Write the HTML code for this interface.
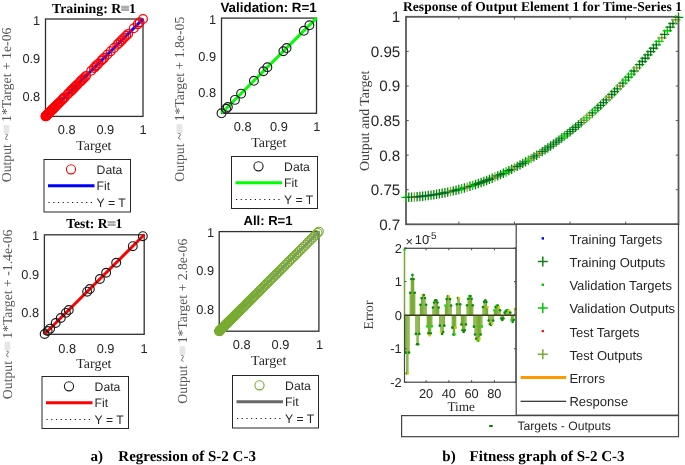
<!DOCTYPE html><html><head><meta charset="utf-8"><style>html,body{margin:0;padding:0;background:#fff;}svg{display:block;will-change:transform;text-rendering:geometricPrecision;}</style></head><body>
<svg width="685" height="465" viewBox="0 0 685 465">
<rect width="685" height="465" fill="#fff"/>
<rect x="45.5" y="19" width="97.5" height="97.4" fill="none" stroke="#303030" stroke-width="1.3"/>
<line x1="45.5" y1="116.4" x2="143" y2="19" stroke="#0000ff" stroke-width="3" />
<g fill="none" stroke="#ff0000" stroke-width="1.25">
<circle cx="45.57" cy="116.33" r="4.4"/>
<circle cx="45.65" cy="116.25" r="4.4"/>
<circle cx="45.87" cy="116.03" r="4.4"/>
<circle cx="46" cy="115.9" r="4.4"/>
<circle cx="46.16" cy="115.74" r="4.4"/>
<circle cx="46.33" cy="115.57" r="4.4"/>
<circle cx="46.52" cy="115.39" r="4.4"/>
<circle cx="46.72" cy="115.18" r="4.4"/>
<circle cx="46.95" cy="114.96" r="4.4"/>
<circle cx="47.19" cy="114.71" r="4.4"/>
<circle cx="47.45" cy="114.45" r="4.4"/>
<circle cx="47.73" cy="114.18" r="4.4"/>
<circle cx="48.02" cy="113.88" r="4.4"/>
<circle cx="48.34" cy="113.57" r="4.4"/>
<circle cx="49.02" cy="112.88" r="4.4"/>
<circle cx="49.39" cy="112.51" r="4.4"/>
<circle cx="49.78" cy="112.13" r="4.4"/>
<circle cx="50.61" cy="111.29" r="4.4"/>
<circle cx="51.52" cy="110.39" r="4.4"/>
<circle cx="52.5" cy="109.41" r="4.4"/>
<circle cx="53.01" cy="108.89" r="4.4"/>
<circle cx="53.55" cy="108.36" r="4.4"/>
<circle cx="54.11" cy="107.8" r="4.4"/>
<circle cx="54.68" cy="107.23" r="4.4"/>
<circle cx="55.28" cy="106.63" r="4.4"/>
<circle cx="55.89" cy="106.02" r="4.4"/>
<circle cx="57.18" cy="104.74" r="4.4"/>
<circle cx="57.85" cy="104.07" r="4.4"/>
<circle cx="58.54" cy="103.38" r="4.4"/>
<circle cx="59.98" cy="101.94" r="4.4"/>
<circle cx="60.73" cy="101.19" r="4.4"/>
<circle cx="62.28" cy="99.63" r="4.4"/>
<circle cx="63.09" cy="98.83" r="4.4"/>
<circle cx="63.92" cy="98" r="4.4"/>
<circle cx="64.77" cy="97.15" r="4.4"/>
<circle cx="67.43" cy="94.49" r="4.4"/>
<circle cx="68.36" cy="93.57" r="4.4"/>
<circle cx="70.27" cy="91.65" r="4.4"/>
<circle cx="71.26" cy="90.67" r="4.4"/>
<circle cx="72.27" cy="89.66" r="4.4"/>
<circle cx="73.3" cy="88.63" r="4.4"/>
<circle cx="74.35" cy="87.58" r="4.4"/>
<circle cx="75.42" cy="86.51" r="4.4"/>
<circle cx="76.51" cy="85.42" r="4.4"/>
<circle cx="77.62" cy="84.31" r="4.4"/>
<circle cx="79.9" cy="82.03" r="4.4"/>
<circle cx="81.08" cy="80.86" r="4.4"/>
<circle cx="82.27" cy="79.67" r="4.4"/>
<circle cx="83.49" cy="78.45" r="4.4"/>
<circle cx="84.72" cy="77.22" r="4.4"/>
<circle cx="85.98" cy="75.96" r="4.4"/>
<circle cx="91.22" cy="70.73" r="4.4"/>
<circle cx="93.97" cy="67.98" r="4.4"/>
<circle cx="95.37" cy="66.58" r="4.4"/>
<circle cx="96.8" cy="65.15" r="4.4"/>
<circle cx="98.25" cy="63.71" r="4.4"/>
<circle cx="101.21" cy="60.75" r="4.4"/>
<circle cx="102.73" cy="59.23" r="4.4"/>
<circle cx="104.26" cy="57.7" r="4.4"/>
<circle cx="107.4" cy="54.56" r="4.4"/>
<circle cx="110.63" cy="51.34" r="4.4"/>
<circle cx="113.94" cy="48.03" r="4.4"/>
<circle cx="117.34" cy="44.63" r="4.4"/>
<circle cx="119.08" cy="42.9" r="4.4"/>
<circle cx="120.83" cy="41.14" r="4.4"/>
<circle cx="122.61" cy="39.36" r="4.4"/>
<circle cx="124.42" cy="37.56" r="4.4"/>
<circle cx="126.24" cy="35.74" r="4.4"/>
<circle cx="128.09" cy="33.9" r="4.4"/>
<circle cx="133.77" cy="28.22" r="4.4"/>
<circle cx="137.67" cy="24.33" r="4.4"/>
<circle cx="139.65" cy="22.34" r="4.4"/>
<circle cx="143" cy="19" r="4.4"/>
</g>
<text x="94" y="13.1" font-family='"Liberation Serif", serif' font-size="13.8" font-weight="bold" text-anchor="middle" fill="#000" >Training: R<tspan fill="#ababab" stroke="#ababab" stroke-width="1.5">=</tspan>1</text>
<text x="66.7" y="134.3" font-family='"Liberation Sans", sans-serif' font-size="12.8" text-anchor="middle" fill="#262626" >0.8</text>
<text x="105.3" y="134.3" font-family='"Liberation Sans", sans-serif' font-size="12.8" text-anchor="middle" fill="#262626" >0.9</text>
<text x="143" y="134.3" font-family='"Liberation Sans", sans-serif' font-size="12.8" text-anchor="middle" fill="#262626" >1</text>
<text x="40.2" y="24.8" font-family='"Liberation Sans", sans-serif' font-size="12.8" text-anchor="end" fill="#262626" >1</text>
<text x="40.2" y="62.5" font-family='"Liberation Sans", sans-serif' font-size="12.8" text-anchor="end" fill="#262626" >0.9</text>
<text x="40.2" y="100.5" font-family='"Liberation Sans", sans-serif' font-size="12.8" text-anchor="end" fill="#262626" >0.8</text>
<text x="93.9" y="149.9" font-family='"Liberation Serif", serif' font-size="13.95" text-anchor="middle" fill="#262626" >Target</text>
<text transform="translate(11.2,182.25) rotate(-90)" font-family='"Liberation Serif", serif' font-size="13.75" fill="#555">Output ~<tspan fill="#e6e6e6" stroke="#e6e6e6" stroke-width="2.2">=</tspan> 1*Target + 1e-06</text>
<rect x="44" y="159.5" width="86.5" height="52.5" fill="#fff" stroke="#262626" stroke-width="1"/>
<circle cx="71" cy="169.3" r="4.6" fill="none" stroke="#ff0000" stroke-width="1.1"/>
<line x1="48" y1="185.7" x2="94.5" y2="185.7" stroke="#0000ff" stroke-width="3" />
<line x1="48.5" y1="202.5" x2="95.5" y2="202.5" stroke="#1a1a1a" stroke-width="1.05" stroke-dasharray="1.2 3.5"/>
<text x="96.6" y="173.5" font-family='"Liberation Sans", sans-serif' font-size="12.2" text-anchor="start" fill="#262626" >Data</text>
<text x="96.6" y="189.9" font-family='"Liberation Sans", sans-serif' font-size="12.2" text-anchor="start" fill="#262626" >Fit</text>
<text x="96.6" y="206.7" font-family='"Liberation Sans", sans-serif' font-size="12.2" text-anchor="start" fill="#262626" >Y = T</text>
<rect x="221.5" y="18.1" width="95" height="95.2" fill="none" stroke="#303030" stroke-width="1.3"/>
<line x1="221.5" y1="113.3" x2="316.5" y2="18.1" stroke="#00ff00" stroke-width="3" />
<g fill="none" stroke="#1a1a1a" stroke-width="1.15">
<circle cx="221.5" cy="113.3" r="4.4"/>
<circle cx="226.07" cy="108.73" r="4.4"/>
<circle cx="227.83" cy="106.96" r="4.4"/>
<circle cx="234.9" cy="99.88" r="4.4"/>
<circle cx="241.12" cy="93.64" r="4.4"/>
<circle cx="253.9" cy="80.83" r="4.4"/>
<circle cx="263.45" cy="71.26" r="4.4"/>
<circle cx="267.37" cy="67.33" r="4.4"/>
<circle cx="283.37" cy="51.3" r="4.4"/>
<circle cx="286.56" cy="48.1" r="4.4"/>
<circle cx="303.79" cy="30.83" r="4.4"/>
<circle cx="309.39" cy="25.22" r="4.4"/>
</g>
<text x="268.6" y="11.5" font-family='"Liberation Sans", sans-serif' font-size="13.4" font-weight="bold" text-anchor="middle" fill="#000" >Validation: R=1</text>
<text x="242.7" y="130.8" font-family='"Liberation Sans", sans-serif' font-size="12.8" text-anchor="middle" fill="#262626" >0.8</text>
<text x="278.9" y="130.8" font-family='"Liberation Sans", sans-serif' font-size="12.8" text-anchor="middle" fill="#262626" >0.9</text>
<text x="316.8" y="130.8" font-family='"Liberation Sans", sans-serif' font-size="12.8" text-anchor="middle" fill="#262626" >1</text>
<text x="216" y="24.1" font-family='"Liberation Sans", sans-serif' font-size="12.8" text-anchor="end" fill="#262626" >1</text>
<text x="216" y="60.5" font-family='"Liberation Sans", sans-serif' font-size="12.8" text-anchor="end" fill="#262626" >0.9</text>
<text x="216" y="96.8" font-family='"Liberation Sans", sans-serif' font-size="12.8" text-anchor="end" fill="#262626" >0.8</text>
<text x="268.85" y="146.6" font-family='"Liberation Serif", serif' font-size="13.95" text-anchor="middle" fill="#262626" >Target</text>
<text transform="translate(184.3,181.65) rotate(-90)" font-family='"Liberation Serif", serif' font-size="13.75" fill="#555">Output ~<tspan fill="#e6e6e6" stroke="#e6e6e6" stroke-width="2.2">=</tspan> 1*Target + 1.8e-05</text>
<rect x="231.5" y="156.5" width="86" height="52" fill="#fff" stroke="#262626" stroke-width="1"/>
<circle cx="258.5" cy="166.3" r="4.6" fill="none" stroke="#1a1a1a" stroke-width="1.1"/>
<line x1="235.5" y1="182.7" x2="282" y2="182.7" stroke="#00ff00" stroke-width="3" />
<line x1="236" y1="199.5" x2="283" y2="199.5" stroke="#1a1a1a" stroke-width="1.05" stroke-dasharray="1.2 3.5"/>
<text x="284.1" y="170.5" font-family='"Liberation Sans", sans-serif' font-size="12.2" text-anchor="start" fill="#262626" >Data</text>
<text x="284.1" y="186.9" font-family='"Liberation Sans", sans-serif' font-size="12.2" text-anchor="start" fill="#262626" >Fit</text>
<text x="284.1" y="203.7" font-family='"Liberation Sans", sans-serif' font-size="12.2" text-anchor="start" fill="#262626" >Y = T</text>
<rect x="44.4" y="234.8" width="99.8" height="99.5" fill="none" stroke="#303030" stroke-width="1.3"/>
<line x1="44.4" y1="334.3" x2="144.2" y2="234.8" stroke="#ff0000" stroke-width="3" />
<g fill="none" stroke="#1a1a1a" stroke-width="1.15">
<circle cx="44.65" cy="334.05" r="4.4"/>
<circle cx="47.65" cy="331.06" r="4.4"/>
<circle cx="50.08" cy="328.63" r="4.4"/>
<circle cx="55.68" cy="323.05" r="4.4"/>
<circle cx="60.77" cy="317.98" r="4.4"/>
<circle cx="65.92" cy="312.85" r="4.4"/>
<circle cx="68.77" cy="310.01" r="4.4"/>
<circle cx="87.14" cy="291.69" r="4.4"/>
<circle cx="89.82" cy="289.01" r="4.4"/>
<circle cx="99.9" cy="278.97" r="4.4"/>
<circle cx="106.14" cy="272.74" r="4.4"/>
<circle cx="116.18" cy="262.73" r="4.4"/>
<circle cx="132.79" cy="246.18" r="4.4"/>
<circle cx="142.83" cy="236.17" r="4.4"/>
</g>
<text x="94.2" y="228.3" font-family='"Liberation Serif", serif' font-size="13.6" font-weight="bold" text-anchor="middle" fill="#000" >Test: R<tspan fill="#ababab" stroke="#ababab" stroke-width="1.5">=</tspan>1</text>
<text x="67.2" y="352.7" font-family='"Liberation Sans", sans-serif' font-size="12.8" text-anchor="middle" fill="#262626" >0.8</text>
<text x="105.6" y="352.7" font-family='"Liberation Sans", sans-serif' font-size="12.8" text-anchor="middle" fill="#262626" >0.9</text>
<text x="144" y="352.7" font-family='"Liberation Sans", sans-serif' font-size="12.8" text-anchor="middle" fill="#262626" >1</text>
<text x="39.1" y="239.5" font-family='"Liberation Sans", sans-serif' font-size="12.8" text-anchor="end" fill="#262626" >1</text>
<text x="39.1" y="278.5" font-family='"Liberation Sans", sans-serif' font-size="12.8" text-anchor="end" fill="#262626" >0.9</text>
<text x="39.1" y="316.6" font-family='"Liberation Sans", sans-serif' font-size="12.8" text-anchor="end" fill="#262626" >0.8</text>
<text x="93.9" y="367.9" font-family='"Liberation Serif", serif' font-size="13.95" text-anchor="middle" fill="#262626" >Target</text>
<text transform="translate(12,399.15) rotate(-90)" font-family='"Liberation Serif", serif' font-size="13.75" fill="#555">Output ~<tspan fill="#e6e6e6" stroke="#e6e6e6" stroke-width="2.2">=</tspan> 1*Target + -1.4e-06</text>
<rect x="42" y="376.5" width="86.5" height="52" fill="#fff" stroke="#262626" stroke-width="1"/>
<circle cx="69" cy="386.3" r="4.6" fill="none" stroke="#1a1a1a" stroke-width="1.1"/>
<line x1="46" y1="402.7" x2="92.5" y2="402.7" stroke="#ff0000" stroke-width="3" />
<line x1="46.5" y1="419.5" x2="93.5" y2="419.5" stroke="#1a1a1a" stroke-width="1.05" stroke-dasharray="1.2 3.5"/>
<text x="94.6" y="390.5" font-family='"Liberation Sans", sans-serif' font-size="12.2" text-anchor="start" fill="#262626" >Data</text>
<text x="94.6" y="406.9" font-family='"Liberation Sans", sans-serif' font-size="12.2" text-anchor="start" fill="#262626" >Fit</text>
<text x="94.6" y="423.7" font-family='"Liberation Sans", sans-serif' font-size="12.2" text-anchor="start" fill="#262626" >Y = T</text>
<rect x="219.2" y="231.6" width="99.7" height="99.6" fill="none" stroke="#303030" stroke-width="1.3"/>
<line x1="219.2" y1="331.2" x2="318.9" y2="231.6" stroke="#8a8a8a" stroke-width="3" />
<g fill="none" stroke="#77ac30" stroke-width="1.1">
<circle cx="219.2" cy="331.2" r="4.4"/>
<circle cx="219.27" cy="331.13" r="4.4"/>
<circle cx="219.35" cy="331.05" r="4.4"/>
<circle cx="219.45" cy="330.95" r="4.4"/>
<circle cx="219.58" cy="330.83" r="4.4"/>
<circle cx="219.71" cy="330.69" r="4.4"/>
<circle cx="219.87" cy="330.53" r="4.4"/>
<circle cx="220.05" cy="330.36" r="4.4"/>
<circle cx="220.24" cy="330.16" r="4.4"/>
<circle cx="220.45" cy="329.95" r="4.4"/>
<circle cx="220.68" cy="329.72" r="4.4"/>
<circle cx="220.93" cy="329.48" r="4.4"/>
<circle cx="221.19" cy="329.21" r="4.4"/>
<circle cx="221.48" cy="328.93" r="4.4"/>
<circle cx="221.78" cy="328.62" r="4.4"/>
<circle cx="222.1" cy="328.3" r="4.4"/>
<circle cx="222.44" cy="327.96" r="4.4"/>
<circle cx="222.8" cy="327.6" r="4.4"/>
<circle cx="223.18" cy="327.22" r="4.4"/>
<circle cx="223.58" cy="326.83" r="4.4"/>
<circle cx="223.99" cy="326.41" r="4.4"/>
<circle cx="224.43" cy="325.98" r="4.4"/>
<circle cx="224.88" cy="325.53" r="4.4"/>
<circle cx="225.35" cy="325.05" r="4.4"/>
<circle cx="225.84" cy="324.56" r="4.4"/>
<circle cx="226.35" cy="324.05" r="4.4"/>
<circle cx="226.88" cy="323.52" r="4.4"/>
<circle cx="227.43" cy="322.97" r="4.4"/>
<circle cx="228" cy="322.41" r="4.4"/>
<circle cx="228.59" cy="321.82" r="4.4"/>
<circle cx="229.2" cy="321.21" r="4.4"/>
<circle cx="229.83" cy="320.58" r="4.4"/>
<circle cx="230.47" cy="319.94" r="4.4"/>
<circle cx="231.14" cy="319.27" r="4.4"/>
<circle cx="231.83" cy="318.59" r="4.4"/>
<circle cx="232.53" cy="317.88" r="4.4"/>
<circle cx="233.26" cy="317.16" r="4.4"/>
<circle cx="234" cy="316.41" r="4.4"/>
<circle cx="234.77" cy="315.65" r="4.4"/>
<circle cx="235.56" cy="314.86" r="4.4"/>
<circle cx="236.36" cy="314.06" r="4.4"/>
<circle cx="237.19" cy="313.23" r="4.4"/>
<circle cx="238.03" cy="312.38" r="4.4"/>
<circle cx="238.9" cy="311.52" r="4.4"/>
<circle cx="239.79" cy="310.63" r="4.4"/>
<circle cx="240.7" cy="309.73" r="4.4"/>
<circle cx="241.62" cy="308.8" r="4.4"/>
<circle cx="242.57" cy="307.85" r="4.4"/>
<circle cx="243.54" cy="306.88" r="4.4"/>
<circle cx="244.53" cy="305.89" r="4.4"/>
<circle cx="245.54" cy="304.88" r="4.4"/>
<circle cx="246.57" cy="303.85" r="4.4"/>
<circle cx="247.63" cy="302.8" r="4.4"/>
<circle cx="248.7" cy="301.73" r="4.4"/>
<circle cx="249.79" cy="300.64" r="4.4"/>
<circle cx="250.91" cy="299.52" r="4.4"/>
<circle cx="252.04" cy="298.39" r="4.4"/>
<circle cx="253.2" cy="297.23" r="4.4"/>
<circle cx="254.38" cy="296.06" r="4.4"/>
<circle cx="255.58" cy="294.86" r="4.4"/>
<circle cx="256.8" cy="293.64" r="4.4"/>
<circle cx="258.04" cy="292.4" r="4.4"/>
<circle cx="259.31" cy="291.13" r="4.4"/>
<circle cx="260.59" cy="289.85" r="4.4"/>
<circle cx="261.9" cy="288.54" r="4.4"/>
<circle cx="263.23" cy="287.22" r="4.4"/>
<circle cx="264.58" cy="285.87" r="4.4"/>
<circle cx="265.95" cy="284.5" r="4.4"/>
<circle cx="267.34" cy="283.1" r="4.4"/>
<circle cx="268.76" cy="281.69" r="4.4"/>
<circle cx="270.2" cy="280.25" r="4.4"/>
<circle cx="271.66" cy="278.8" r="4.4"/>
<circle cx="273.14" cy="277.32" r="4.4"/>
<circle cx="274.64" cy="275.81" r="4.4"/>
<circle cx="276.17" cy="274.29" r="4.4"/>
<circle cx="277.72" cy="272.74" r="4.4"/>
<circle cx="279.29" cy="271.17" r="4.4"/>
<circle cx="280.88" cy="269.58" r="4.4"/>
<circle cx="282.5" cy="267.97" r="4.4"/>
<circle cx="284.13" cy="266.33" r="4.4"/>
<circle cx="285.79" cy="264.67" r="4.4"/>
<circle cx="287.48" cy="262.99" r="4.4"/>
<circle cx="289.18" cy="261.29" r="4.4"/>
<circle cx="290.91" cy="259.56" r="4.4"/>
<circle cx="292.66" cy="257.81" r="4.4"/>
<circle cx="294.44" cy="256.04" r="4.4"/>
<circle cx="296.23" cy="254.24" r="4.4"/>
<circle cx="298.05" cy="252.42" r="4.4"/>
<circle cx="299.9" cy="250.58" r="4.4"/>
<circle cx="301.76" cy="248.72" r="4.4"/>
<circle cx="303.65" cy="246.83" r="4.4"/>
<circle cx="305.57" cy="244.92" r="4.4"/>
<circle cx="307.5" cy="242.99" r="4.4"/>
<circle cx="309.46" cy="241.03" r="4.4"/>
<circle cx="311.44" cy="239.05" r="4.4"/>
<circle cx="313.45" cy="237.05" r="4.4"/>
<circle cx="315.48" cy="235.02" r="4.4"/>
<circle cx="317.53" cy="232.97" r="4.4"/>
<circle cx="318.9" cy="231.6" r="4.4"/>
</g>
<text x="268" y="224.8" font-family='"Liberation Sans", sans-serif' font-size="13.1" font-weight="bold" text-anchor="middle" fill="#000" >All: R=1</text>
<text x="241.7" y="349.2" font-family='"Liberation Sans", sans-serif' font-size="12.8" text-anchor="middle" fill="#262626" >0.8</text>
<text x="280.5" y="349.2" font-family='"Liberation Sans", sans-serif' font-size="12.8" text-anchor="middle" fill="#262626" >0.9</text>
<text x="319.6" y="349.2" font-family='"Liberation Sans", sans-serif' font-size="12.8" text-anchor="middle" fill="#262626" >1</text>
<text x="214" y="236.5" font-family='"Liberation Sans", sans-serif' font-size="12.8" text-anchor="end" fill="#262626" >1</text>
<text x="214" y="275.4" font-family='"Liberation Sans", sans-serif' font-size="12.8" text-anchor="end" fill="#262626" >0.9</text>
<text x="214" y="313.7" font-family='"Liberation Sans", sans-serif' font-size="12.8" text-anchor="end" fill="#262626" >0.8</text>
<text x="268.7" y="364.6" font-family='"Liberation Serif", serif' font-size="13.95" text-anchor="middle" fill="#262626" >Target</text>
<text transform="translate(187,403.65) rotate(-90)" font-family='"Liberation Serif", serif' font-size="13.75" fill="#555">Output ~<tspan fill="#e6e6e6" stroke="#e6e6e6" stroke-width="2.2">=</tspan> 1*Target + 2.8e-06</text>
<rect x="232.5" y="375.5" width="86" height="52.5" fill="#fff" stroke="#262626" stroke-width="1"/>
<circle cx="259.5" cy="385.3" r="4.6" fill="none" stroke="#77ac30" stroke-width="1.1"/>
<line x1="236.5" y1="401.7" x2="283" y2="401.7" stroke="#666666" stroke-width="3" />
<line x1="237" y1="418.5" x2="284" y2="418.5" stroke="#1a1a1a" stroke-width="1.05" stroke-dasharray="1.2 3.5"/>
<text x="285.1" y="389.5" font-family='"Liberation Sans", sans-serif' font-size="12.2" text-anchor="start" fill="#262626" >Data</text>
<text x="285.1" y="405.9" font-family='"Liberation Sans", sans-serif' font-size="12.2" text-anchor="start" fill="#262626" >Fit</text>
<text x="285.1" y="422.7" font-family='"Liberation Sans", sans-serif' font-size="12.2" text-anchor="start" fill="#262626" >Y = T</text>
<rect x="406" y="16.8" width="272.5" height="207.5" fill="none" stroke="#5a5a5a" stroke-width="1.8"/>
<path d="M401.3,197.41h9.4M406,192.71v9.4" stroke="#00d000" stroke-width="1.3" fill="none"/>
<path d="M404.08,197.29h9.4M408.78,192.59v9.4" stroke="#008800" stroke-width="1.3" fill="none"/>
<path d="M406.86,197.13h9.4M411.56,192.43v9.4" stroke="#008800" stroke-width="1.3" fill="none"/>
<path d="M409.64,196.95h9.4M414.34,192.25v9.4" stroke="#77ac30" stroke-width="1.3" fill="none"/>
<path d="M412.42,196.73h9.4M417.12,192.03v9.4" stroke="#008800" stroke-width="1.3" fill="none"/>
<path d="M415.2,196.48h9.4M419.9,191.78v9.4" stroke="#008800" stroke-width="1.3" fill="none"/>
<path d="M417.98,196.19h9.4M422.68,191.49v9.4" stroke="#008800" stroke-width="1.3" fill="none"/>
<path d="M420.76,195.88h9.4M425.46,191.18v9.4" stroke="#008800" stroke-width="1.3" fill="none"/>
<path d="M423.54,195.53h9.4M428.24,190.83v9.4" stroke="#008800" stroke-width="1.3" fill="none"/>
<path d="M426.33,195.15h9.4M431.03,190.45v9.4" stroke="#008800" stroke-width="1.3" fill="none"/>
<path d="M429.11,194.73h9.4M433.81,190.03v9.4" stroke="#008800" stroke-width="1.3" fill="none"/>
<path d="M431.89,194.29h9.4M436.59,189.59v9.4" stroke="#008800" stroke-width="1.3" fill="none"/>
<path d="M434.67,193.81h9.4M439.37,189.11v9.4" stroke="#008800" stroke-width="1.3" fill="none"/>
<path d="M437.45,193.29h9.4M442.15,188.59v9.4" stroke="#008800" stroke-width="1.3" fill="none"/>
<path d="M440.23,192.75h9.4M444.93,188.05v9.4" stroke="#008800" stroke-width="1.3" fill="none"/>
<path d="M443.01,192.16h9.4M447.71,187.46v9.4" stroke="#008800" stroke-width="1.3" fill="none"/>
<path d="M445.79,191.55h9.4M450.49,186.85v9.4" stroke="#77ac30" stroke-width="1.3" fill="none"/>
<path d="M448.57,190.9h9.4M453.27,186.2v9.4" stroke="#008800" stroke-width="1.3" fill="none"/>
<path d="M451.35,190.22h9.4M456.05,185.52v9.4" stroke="#008800" stroke-width="1.3" fill="none"/>
<path d="M454.13,189.5h9.4M458.83,184.8v9.4" stroke="#008800" stroke-width="1.3" fill="none"/>
<path d="M456.91,188.75h9.4M461.61,184.05v9.4" stroke="#00d000" stroke-width="1.3" fill="none"/>
<path d="M459.69,187.97h9.4M464.39,183.27v9.4" stroke="#008800" stroke-width="1.3" fill="none"/>
<path d="M462.47,187.15h9.4M467.17,182.45v9.4" stroke="#77ac30" stroke-width="1.3" fill="none"/>
<path d="M465.25,186.29h9.4M469.95,181.59v9.4" stroke="#008800" stroke-width="1.3" fill="none"/>
<path d="M468.03,185.41h9.4M472.73,180.71v9.4" stroke="#00d000" stroke-width="1.3" fill="none"/>
<path d="M470.82,184.48h9.4M475.52,179.78v9.4" stroke="#008800" stroke-width="1.3" fill="none"/>
<path d="M473.6,183.52h9.4M478.3,178.82v9.4" stroke="#008800" stroke-width="1.3" fill="none"/>
<path d="M476.38,182.53h9.4M481.08,177.83v9.4" stroke="#008800" stroke-width="1.3" fill="none"/>
<path d="M479.16,181.5h9.4M483.86,176.8v9.4" stroke="#008800" stroke-width="1.3" fill="none"/>
<path d="M481.94,180.44h9.4M486.64,175.74v9.4" stroke="#008800" stroke-width="1.3" fill="none"/>
<path d="M484.72,179.34h9.4M489.42,174.64v9.4" stroke="#008800" stroke-width="1.3" fill="none"/>
<path d="M487.5,178.21h9.4M492.2,173.51v9.4" stroke="#008800" stroke-width="1.3" fill="none"/>
<path d="M490.28,177.04h9.4M494.98,172.34v9.4" stroke="#77ac30" stroke-width="1.3" fill="none"/>
<path d="M493.06,175.84h9.4M497.76,171.14v9.4" stroke="#008800" stroke-width="1.3" fill="none"/>
<path d="M495.84,174.6h9.4M500.54,169.9v9.4" stroke="#008800" stroke-width="1.3" fill="none"/>
<path d="M498.62,173.32h9.4M503.32,168.62v9.4" stroke="#008800" stroke-width="1.3" fill="none"/>
<path d="M501.4,172.01h9.4M506.1,167.31v9.4" stroke="#00d000" stroke-width="1.3" fill="none"/>
<path d="M504.18,170.66h9.4M508.88,165.96v9.4" stroke="#008800" stroke-width="1.3" fill="none"/>
<path d="M506.96,169.28h9.4M511.66,164.58v9.4" stroke="#008800" stroke-width="1.3" fill="none"/>
<path d="M509.74,167.86h9.4M514.44,163.16v9.4" stroke="#77ac30" stroke-width="1.3" fill="none"/>
<path d="M512.52,166.4h9.4M517.22,161.7v9.4" stroke="#008800" stroke-width="1.3" fill="none"/>
<path d="M515.31,164.91h9.4M520.01,160.21v9.4" stroke="#008800" stroke-width="1.3" fill="none"/>
<path d="M518.09,163.38h9.4M522.79,158.68v9.4" stroke="#008800" stroke-width="1.3" fill="none"/>
<path d="M520.87,161.82h9.4M525.57,157.12v9.4" stroke="#008800" stroke-width="1.3" fill="none"/>
<path d="M523.65,160.21h9.4M528.35,155.51v9.4" stroke="#00d000" stroke-width="1.3" fill="none"/>
<path d="M526.43,158.57h9.4M531.13,153.87v9.4" stroke="#77ac30" stroke-width="1.3" fill="none"/>
<path d="M529.21,156.9h9.4M533.91,152.2v9.4" stroke="#008800" stroke-width="1.3" fill="none"/>
<path d="M531.99,155.18h9.4M536.69,150.48v9.4" stroke="#008800" stroke-width="1.3" fill="none"/>
<path d="M534.77,153.43h9.4M539.47,148.73v9.4" stroke="#77ac30" stroke-width="1.3" fill="none"/>
<path d="M537.55,151.65h9.4M542.25,146.95v9.4" stroke="#008800" stroke-width="1.3" fill="none"/>
<path d="M540.33,149.82h9.4M545.03,145.12v9.4" stroke="#008800" stroke-width="1.3" fill="none"/>
<path d="M543.11,147.96h9.4M547.81,143.26v9.4" stroke="#008800" stroke-width="1.3" fill="none"/>
<path d="M545.89,146.06h9.4M550.59,141.36v9.4" stroke="#008800" stroke-width="1.3" fill="none"/>
<path d="M548.67,144.12h9.4M553.37,139.42v9.4" stroke="#008800" stroke-width="1.3" fill="none"/>
<path d="M551.45,142.14h9.4M556.15,137.44v9.4" stroke="#008800" stroke-width="1.3" fill="none"/>
<path d="M554.23,140.13h9.4M558.93,135.43v9.4" stroke="#008800" stroke-width="1.3" fill="none"/>
<path d="M557.01,138.07h9.4M561.71,133.37v9.4" stroke="#008800" stroke-width="1.3" fill="none"/>
<path d="M559.79,135.98h9.4M564.49,131.28v9.4" stroke="#00d000" stroke-width="1.3" fill="none"/>
<path d="M562.58,133.86h9.4M567.28,129.16v9.4" stroke="#008800" stroke-width="1.3" fill="none"/>
<path d="M565.36,131.69h9.4M570.06,126.99v9.4" stroke="#008800" stroke-width="1.3" fill="none"/>
<path d="M568.14,129.48h9.4M572.84,124.78v9.4" stroke="#008800" stroke-width="1.3" fill="none"/>
<path d="M570.92,127.24h9.4M575.62,122.54v9.4" stroke="#008800" stroke-width="1.3" fill="none"/>
<path d="M573.7,124.95h9.4M578.4,120.25v9.4" stroke="#008800" stroke-width="1.3" fill="none"/>
<path d="M576.48,122.63h9.4M581.18,117.93v9.4" stroke="#008800" stroke-width="1.3" fill="none"/>
<path d="M579.26,120.27h9.4M583.96,115.57v9.4" stroke="#77ac30" stroke-width="1.3" fill="none"/>
<path d="M582.04,117.87h9.4M586.74,113.17v9.4" stroke="#00d000" stroke-width="1.3" fill="none"/>
<path d="M584.82,115.43h9.4M589.52,110.73v9.4" stroke="#77ac30" stroke-width="1.3" fill="none"/>
<path d="M587.6,112.95h9.4M592.3,108.25v9.4" stroke="#008800" stroke-width="1.3" fill="none"/>
<path d="M590.38,110.44h9.4M595.08,105.74v9.4" stroke="#00d000" stroke-width="1.3" fill="none"/>
<path d="M593.16,107.88h9.4M597.86,103.18v9.4" stroke="#008800" stroke-width="1.3" fill="none"/>
<path d="M595.94,105.28h9.4M600.64,100.58v9.4" stroke="#008800" stroke-width="1.3" fill="none"/>
<path d="M598.72,102.64h9.4M603.42,97.94v9.4" stroke="#008800" stroke-width="1.3" fill="none"/>
<path d="M601.5,99.97h9.4M606.2,95.27v9.4" stroke="#008800" stroke-width="1.3" fill="none"/>
<path d="M604.28,97.25h9.4M608.98,92.55v9.4" stroke="#77ac30" stroke-width="1.3" fill="none"/>
<path d="M607.07,94.49h9.4M611.77,89.79v9.4" stroke="#008800" stroke-width="1.3" fill="none"/>
<path d="M609.85,91.7h9.4M614.55,87v9.4" stroke="#008800" stroke-width="1.3" fill="none"/>
<path d="M612.63,88.86h9.4M617.33,84.16v9.4" stroke="#008800" stroke-width="1.3" fill="none"/>
<path d="M615.41,85.98h9.4M620.11,81.28v9.4" stroke="#77ac30" stroke-width="1.3" fill="none"/>
<path d="M618.19,83.06h9.4M622.89,78.36v9.4" stroke="#008800" stroke-width="1.3" fill="none"/>
<path d="M620.97,80.1h9.4M625.67,75.4v9.4" stroke="#00d000" stroke-width="1.3" fill="none"/>
<path d="M623.75,77.1h9.4M628.45,72.4v9.4" stroke="#008800" stroke-width="1.3" fill="none"/>
<path d="M626.53,74.06h9.4M631.23,69.36v9.4" stroke="#00d000" stroke-width="1.3" fill="none"/>
<path d="M629.31,70.98h9.4M634.01,66.28v9.4" stroke="#008800" stroke-width="1.3" fill="none"/>
<path d="M632.09,67.86h9.4M636.79,63.16v9.4" stroke="#77ac30" stroke-width="1.3" fill="none"/>
<path d="M634.87,64.7h9.4M639.57,60v9.4" stroke="#008800" stroke-width="1.3" fill="none"/>
<path d="M637.65,61.49h9.4M642.35,56.79v9.4" stroke="#008800" stroke-width="1.3" fill="none"/>
<path d="M640.43,58.24h9.4M645.13,53.54v9.4" stroke="#008800" stroke-width="1.3" fill="none"/>
<path d="M643.21,54.96h9.4M647.91,50.26v9.4" stroke="#008800" stroke-width="1.3" fill="none"/>
<path d="M645.99,51.63h9.4M650.69,46.93v9.4" stroke="#008800" stroke-width="1.3" fill="none"/>
<path d="M648.77,48.26h9.4M653.47,43.56v9.4" stroke="#008800" stroke-width="1.3" fill="none"/>
<path d="M651.56,44.84h9.4M656.26,40.14v9.4" stroke="#008800" stroke-width="1.3" fill="none"/>
<path d="M654.34,41.39h9.4M659.04,36.69v9.4" stroke="#00d000" stroke-width="1.3" fill="none"/>
<path d="M657.12,37.89h9.4M661.82,33.19v9.4" stroke="#77ac30" stroke-width="1.3" fill="none"/>
<path d="M659.9,34.35h9.4M664.6,29.65v9.4" stroke="#008800" stroke-width="1.3" fill="none"/>
<path d="M662.68,30.77h9.4M667.38,26.07v9.4" stroke="#00d000" stroke-width="1.3" fill="none"/>
<path d="M665.46,27.15h9.4M670.16,22.45v9.4" stroke="#008800" stroke-width="1.3" fill="none"/>
<path d="M668.24,23.48h9.4M672.94,18.78v9.4" stroke="#008800" stroke-width="1.3" fill="none"/>
<path d="M671.02,19.77h9.4M675.72,15.07v9.4" stroke="#77ac30" stroke-width="1.3" fill="none"/>
<path d="M673.8,17.3h9.4M678.5,12.6v9.4" stroke="#008800" stroke-width="1.3" fill="none"/>
<circle cx="406" cy="197.41" r="0.65" fill="#00c800"/>
<circle cx="408.78" cy="197.29" r="0.65" fill="#1010d0"/>
<circle cx="411.56" cy="197.13" r="0.65" fill="#1010d0"/>
<circle cx="414.34" cy="196.95" r="0.65" fill="#e81010"/>
<circle cx="417.12" cy="196.73" r="0.65" fill="#1010d0"/>
<circle cx="419.9" cy="196.48" r="0.65" fill="#1010d0"/>
<circle cx="422.68" cy="196.19" r="0.65" fill="#1010d0"/>
<circle cx="425.46" cy="195.88" r="0.65" fill="#1010d0"/>
<circle cx="428.24" cy="195.53" r="0.65" fill="#1010d0"/>
<circle cx="431.03" cy="195.15" r="0.65" fill="#1010d0"/>
<circle cx="433.81" cy="194.73" r="0.65" fill="#1010d0"/>
<circle cx="436.59" cy="194.29" r="0.65" fill="#1010d0"/>
<circle cx="439.37" cy="193.81" r="0.65" fill="#1010d0"/>
<circle cx="442.15" cy="193.29" r="0.65" fill="#1010d0"/>
<circle cx="444.93" cy="192.75" r="0.65" fill="#1010d0"/>
<circle cx="447.71" cy="192.16" r="0.65" fill="#1010d0"/>
<circle cx="450.49" cy="191.55" r="0.65" fill="#e81010"/>
<circle cx="453.27" cy="190.9" r="0.65" fill="#1010d0"/>
<circle cx="456.05" cy="190.22" r="0.65" fill="#1010d0"/>
<circle cx="458.83" cy="189.5" r="0.65" fill="#1010d0"/>
<circle cx="461.61" cy="188.75" r="0.65" fill="#00c800"/>
<circle cx="464.39" cy="187.97" r="0.65" fill="#1010d0"/>
<circle cx="467.17" cy="187.15" r="0.65" fill="#e81010"/>
<circle cx="469.95" cy="186.29" r="0.65" fill="#1010d0"/>
<circle cx="472.73" cy="185.41" r="0.65" fill="#00c800"/>
<circle cx="475.52" cy="184.48" r="0.65" fill="#1010d0"/>
<circle cx="478.3" cy="183.52" r="0.65" fill="#1010d0"/>
<circle cx="481.08" cy="182.53" r="0.65" fill="#1010d0"/>
<circle cx="483.86" cy="181.5" r="0.65" fill="#1010d0"/>
<circle cx="486.64" cy="180.44" r="0.65" fill="#1010d0"/>
<circle cx="489.42" cy="179.34" r="0.65" fill="#1010d0"/>
<circle cx="492.2" cy="178.21" r="0.65" fill="#1010d0"/>
<circle cx="494.98" cy="177.04" r="0.65" fill="#e81010"/>
<circle cx="497.76" cy="175.84" r="0.65" fill="#1010d0"/>
<circle cx="500.54" cy="174.6" r="0.65" fill="#1010d0"/>
<circle cx="503.32" cy="173.32" r="0.65" fill="#1010d0"/>
<circle cx="506.1" cy="172.01" r="0.65" fill="#00c800"/>
<circle cx="508.88" cy="170.66" r="0.65" fill="#1010d0"/>
<circle cx="511.66" cy="169.28" r="0.65" fill="#1010d0"/>
<circle cx="514.44" cy="167.86" r="0.65" fill="#e81010"/>
<circle cx="517.22" cy="166.4" r="0.65" fill="#1010d0"/>
<circle cx="520.01" cy="164.91" r="0.65" fill="#1010d0"/>
<circle cx="522.79" cy="163.38" r="0.65" fill="#1010d0"/>
<circle cx="525.57" cy="161.82" r="0.65" fill="#1010d0"/>
<circle cx="528.35" cy="160.21" r="0.65" fill="#00c800"/>
<circle cx="531.13" cy="158.57" r="0.65" fill="#e81010"/>
<circle cx="533.91" cy="156.9" r="0.65" fill="#1010d0"/>
<circle cx="536.69" cy="155.18" r="0.65" fill="#1010d0"/>
<circle cx="539.47" cy="153.43" r="0.65" fill="#e81010"/>
<circle cx="542.25" cy="151.65" r="0.65" fill="#1010d0"/>
<circle cx="545.03" cy="149.82" r="0.65" fill="#1010d0"/>
<circle cx="547.81" cy="147.96" r="0.65" fill="#1010d0"/>
<circle cx="550.59" cy="146.06" r="0.65" fill="#1010d0"/>
<circle cx="553.37" cy="144.12" r="0.65" fill="#1010d0"/>
<circle cx="556.15" cy="142.14" r="0.65" fill="#1010d0"/>
<circle cx="558.93" cy="140.13" r="0.65" fill="#1010d0"/>
<circle cx="561.71" cy="138.07" r="0.65" fill="#1010d0"/>
<circle cx="564.49" cy="135.98" r="0.65" fill="#00c800"/>
<circle cx="567.28" cy="133.86" r="0.65" fill="#1010d0"/>
<circle cx="570.06" cy="131.69" r="0.65" fill="#1010d0"/>
<circle cx="572.84" cy="129.48" r="0.65" fill="#1010d0"/>
<circle cx="575.62" cy="127.24" r="0.65" fill="#1010d0"/>
<circle cx="578.4" cy="124.95" r="0.65" fill="#1010d0"/>
<circle cx="581.18" cy="122.63" r="0.65" fill="#1010d0"/>
<circle cx="583.96" cy="120.27" r="0.65" fill="#e81010"/>
<circle cx="586.74" cy="117.87" r="0.65" fill="#00c800"/>
<circle cx="589.52" cy="115.43" r="0.65" fill="#e81010"/>
<circle cx="592.3" cy="112.95" r="0.65" fill="#1010d0"/>
<circle cx="595.08" cy="110.44" r="0.65" fill="#00c800"/>
<circle cx="597.86" cy="107.88" r="0.65" fill="#1010d0"/>
<circle cx="600.64" cy="105.28" r="0.65" fill="#1010d0"/>
<circle cx="603.42" cy="102.64" r="0.65" fill="#1010d0"/>
<circle cx="606.2" cy="99.97" r="0.65" fill="#1010d0"/>
<circle cx="608.98" cy="97.25" r="0.65" fill="#e81010"/>
<circle cx="611.77" cy="94.49" r="0.65" fill="#1010d0"/>
<circle cx="614.55" cy="91.7" r="0.65" fill="#1010d0"/>
<circle cx="617.33" cy="88.86" r="0.65" fill="#1010d0"/>
<circle cx="620.11" cy="85.98" r="0.65" fill="#e81010"/>
<circle cx="622.89" cy="83.06" r="0.65" fill="#1010d0"/>
<circle cx="625.67" cy="80.1" r="0.65" fill="#00c800"/>
<circle cx="628.45" cy="77.1" r="0.65" fill="#1010d0"/>
<circle cx="631.23" cy="74.06" r="0.65" fill="#00c800"/>
<circle cx="634.01" cy="70.98" r="0.65" fill="#1010d0"/>
<circle cx="636.79" cy="67.86" r="0.65" fill="#e81010"/>
<circle cx="639.57" cy="64.7" r="0.65" fill="#1010d0"/>
<circle cx="642.35" cy="61.49" r="0.65" fill="#1010d0"/>
<circle cx="645.13" cy="58.24" r="0.65" fill="#1010d0"/>
<circle cx="647.91" cy="54.96" r="0.65" fill="#1010d0"/>
<circle cx="650.69" cy="51.63" r="0.65" fill="#1010d0"/>
<circle cx="653.47" cy="48.26" r="0.65" fill="#1010d0"/>
<circle cx="656.26" cy="44.84" r="0.65" fill="#1010d0"/>
<circle cx="659.04" cy="41.39" r="0.65" fill="#00c800"/>
<circle cx="661.82" cy="37.89" r="0.65" fill="#e81010"/>
<circle cx="664.6" cy="34.35" r="0.65" fill="#1010d0"/>
<circle cx="667.38" cy="30.77" r="0.65" fill="#00c800"/>
<circle cx="670.16" cy="27.15" r="0.65" fill="#1010d0"/>
<circle cx="672.94" cy="23.48" r="0.65" fill="#1010d0"/>
<circle cx="675.72" cy="19.77" r="0.65" fill="#e81010"/>
<circle cx="678.5" cy="17.3" r="0.65" fill="#1010d0"/>
<line x1="406" y1="224.3" x2="408.7" y2="224.3" stroke="#555" stroke-width="1" />
<line x1="675.8" y1="224.3" x2="678.5" y2="224.3" stroke="#555" stroke-width="1" />
<line x1="406" y1="189.72" x2="408.7" y2="189.72" stroke="#555" stroke-width="1" />
<line x1="675.8" y1="189.72" x2="678.5" y2="189.72" stroke="#555" stroke-width="1" />
<line x1="406" y1="155.13" x2="408.7" y2="155.13" stroke="#555" stroke-width="1" />
<line x1="675.8" y1="155.13" x2="678.5" y2="155.13" stroke="#555" stroke-width="1" />
<line x1="406" y1="120.55" x2="408.7" y2="120.55" stroke="#555" stroke-width="1" />
<line x1="675.8" y1="120.55" x2="678.5" y2="120.55" stroke="#555" stroke-width="1" />
<line x1="406" y1="85.97" x2="408.7" y2="85.97" stroke="#555" stroke-width="1" />
<line x1="675.8" y1="85.97" x2="678.5" y2="85.97" stroke="#555" stroke-width="1" />
<line x1="406" y1="51.38" x2="408.7" y2="51.38" stroke="#555" stroke-width="1" />
<line x1="675.8" y1="51.38" x2="678.5" y2="51.38" stroke="#555" stroke-width="1" />
<line x1="406" y1="16.8" x2="408.7" y2="16.8" stroke="#555" stroke-width="1" />
<line x1="675.8" y1="16.8" x2="678.5" y2="16.8" stroke="#555" stroke-width="1" />
<line x1="458.83" y1="224.3" x2="458.83" y2="221.6" stroke="#555" stroke-width="1" />
<line x1="458.83" y1="16.8" x2="458.83" y2="19.5" stroke="#555" stroke-width="1" />
<line x1="514.44" y1="224.3" x2="514.44" y2="221.6" stroke="#555" stroke-width="1" />
<line x1="514.44" y1="16.8" x2="514.44" y2="19.5" stroke="#555" stroke-width="1" />
<line x1="570.06" y1="224.3" x2="570.06" y2="221.6" stroke="#555" stroke-width="1" />
<line x1="570.06" y1="16.8" x2="570.06" y2="19.5" stroke="#555" stroke-width="1" />
<line x1="625.67" y1="224.3" x2="625.67" y2="221.6" stroke="#555" stroke-width="1" />
<line x1="625.67" y1="16.8" x2="625.67" y2="19.5" stroke="#555" stroke-width="1" />
<text x="400.3" y="229.9" font-family='"Liberation Sans", sans-serif' font-size="15.2" text-anchor="end" fill="#262626" >0.7</text>
<text x="400.3" y="195.32" font-family='"Liberation Sans", sans-serif' font-size="15.2" text-anchor="end" fill="#262626" >0.75</text>
<text x="400.3" y="160.73" font-family='"Liberation Sans", sans-serif' font-size="15.2" text-anchor="end" fill="#262626" >0.8</text>
<text x="400.3" y="126.15" font-family='"Liberation Sans", sans-serif' font-size="15.2" text-anchor="end" fill="#262626" >0.85</text>
<text x="400.3" y="90.87" font-family='"Liberation Sans", sans-serif' font-size="15.2" text-anchor="end" fill="#262626" >0.9</text>
<text x="400.3" y="56.98" font-family='"Liberation Sans", sans-serif' font-size="15.2" text-anchor="end" fill="#262626" >0.95</text>
<text x="400.3" y="22.4" font-family='"Liberation Sans", sans-serif' font-size="15.2" text-anchor="end" fill="#262626" >1</text>
<text x="542.5" y="11.2" font-family='"Liberation Serif", serif' font-size="13.55" font-weight="bold" text-anchor="middle" fill="#000" >Response of Output Element 1 for Time-Series 1</text>
<text transform="translate(369.4,120.8) rotate(-90)" font-family='"Liberation Serif", serif' font-size="13.9" text-anchor="middle" fill="#404040">Output and Target</text>
<rect x="404.5" y="248.3" width="111.5" height="133.9" fill="none" stroke="#444" stroke-width="1.2"/>
<line x1="404.5" y1="315.2" x2="404.5" y2="249.68" stroke="#77ac30" stroke-width="1.25" />
<line x1="405.64" y1="315.2" x2="405.64" y2="352.61" stroke="#77ac30" stroke-width="1.25" />
<line x1="406.78" y1="315.2" x2="406.78" y2="373.33" stroke="#77ac30" stroke-width="1.25" />
<line x1="407.91" y1="315.2" x2="407.91" y2="373.33" stroke="#77ac30" stroke-width="1.25" />
<line x1="409.05" y1="315.2" x2="409.05" y2="352.61" stroke="#77ac30" stroke-width="1.25" />
<line x1="410.19" y1="315.2" x2="410.19" y2="292.79" stroke="#77ac30" stroke-width="1.25" />
<line x1="411.33" y1="315.2" x2="411.33" y2="278.93" stroke="#77ac30" stroke-width="1.25" />
<line x1="412.46" y1="315.2" x2="412.46" y2="274.88" stroke="#77ac30" stroke-width="1.25" />
<line x1="413.6" y1="315.2" x2="413.6" y2="278.93" stroke="#77ac30" stroke-width="1.25" />
<line x1="414.74" y1="315.2" x2="414.74" y2="292.79" stroke="#77ac30" stroke-width="1.25" />
<line x1="415.88" y1="315.2" x2="415.88" y2="333.91" stroke="#77ac30" stroke-width="1.25" />
<line x1="417.02" y1="315.2" x2="417.02" y2="344.27" stroke="#77ac30" stroke-width="1.25" />
<line x1="418.15" y1="315.2" x2="418.15" y2="344.27" stroke="#77ac30" stroke-width="1.25" />
<line x1="419.29" y1="315.2" x2="419.29" y2="333.91" stroke="#77ac30" stroke-width="1.25" />
<line x1="420.43" y1="315.2" x2="420.43" y2="304.77" stroke="#77ac30" stroke-width="1.25" />
<line x1="421.57" y1="315.2" x2="421.57" y2="297.96" stroke="#77ac30" stroke-width="1.25" />
<line x1="422.7" y1="315.2" x2="422.7" y2="295.06" stroke="#77ac30" stroke-width="1.25" />
<line x1="423.84" y1="315.2" x2="423.84" y2="295.06" stroke="#77ac30" stroke-width="1.25" />
<line x1="424.98" y1="315.2" x2="424.98" y2="297.96" stroke="#77ac30" stroke-width="1.25" />
<line x1="426.12" y1="315.2" x2="426.12" y2="304.77" stroke="#77ac30" stroke-width="1.25" />
<line x1="427.26" y1="315.2" x2="427.26" y2="326.41" stroke="#77ac30" stroke-width="1.25" />
<line x1="428.39" y1="315.2" x2="428.39" y2="333.33" stroke="#77ac30" stroke-width="1.25" />
<line x1="429.53" y1="315.2" x2="429.53" y2="335.36" stroke="#77ac30" stroke-width="1.25" />
<line x1="430.67" y1="315.2" x2="430.67" y2="333.33" stroke="#77ac30" stroke-width="1.25" />
<line x1="431.81" y1="315.2" x2="431.81" y2="326.41" stroke="#77ac30" stroke-width="1.25" />
<line x1="432.94" y1="315.2" x2="432.94" y2="307.51" stroke="#77ac30" stroke-width="1.25" />
<line x1="434.08" y1="315.2" x2="434.08" y2="302.49" stroke="#77ac30" stroke-width="1.25" />
<line x1="435.22" y1="315.2" x2="435.22" y2="300.34" stroke="#77ac30" stroke-width="1.25" />
<line x1="436.36" y1="315.2" x2="436.36" y2="300.34" stroke="#77ac30" stroke-width="1.25" />
<line x1="437.49" y1="315.2" x2="437.49" y2="302.49" stroke="#77ac30" stroke-width="1.25" />
<line x1="438.63" y1="315.2" x2="438.63" y2="307.51" stroke="#77ac30" stroke-width="1.25" />
<line x1="439.77" y1="315.2" x2="439.77" y2="325.66" stroke="#77ac30" stroke-width="1.25" />
<line x1="440.91" y1="315.2" x2="440.91" y2="332.12" stroke="#77ac30" stroke-width="1.25" />
<line x1="442.05" y1="315.2" x2="442.05" y2="334.02" stroke="#77ac30" stroke-width="1.25" />
<line x1="443.18" y1="315.2" x2="443.18" y2="332.12" stroke="#77ac30" stroke-width="1.25" />
<line x1="444.32" y1="315.2" x2="444.32" y2="325.66" stroke="#77ac30" stroke-width="1.25" />
<line x1="445.46" y1="315.2" x2="445.46" y2="305.46" stroke="#77ac30" stroke-width="1.25" />
<line x1="446.6" y1="315.2" x2="446.6" y2="299.1" stroke="#77ac30" stroke-width="1.25" />
<line x1="447.73" y1="315.2" x2="447.73" y2="296.38" stroke="#77ac30" stroke-width="1.25" />
<line x1="448.87" y1="315.2" x2="448.87" y2="296.38" stroke="#77ac30" stroke-width="1.25" />
<line x1="450.01" y1="315.2" x2="450.01" y2="299.1" stroke="#77ac30" stroke-width="1.25" />
<line x1="451.15" y1="315.2" x2="451.15" y2="305.46" stroke="#77ac30" stroke-width="1.25" />
<line x1="452.29" y1="315.2" x2="452.29" y2="327.67" stroke="#77ac30" stroke-width="1.25" />
<line x1="453.42" y1="315.2" x2="453.42" y2="334.58" stroke="#77ac30" stroke-width="1.25" />
<line x1="454.56" y1="315.2" x2="454.56" y2="334.58" stroke="#77ac30" stroke-width="1.25" />
<line x1="455.7" y1="315.2" x2="455.7" y2="327.67" stroke="#77ac30" stroke-width="1.25" />
<line x1="456.84" y1="315.2" x2="456.84" y2="304.18" stroke="#77ac30" stroke-width="1.25" />
<line x1="457.97" y1="315.2" x2="457.97" y2="298.08" stroke="#77ac30" stroke-width="1.25" />
<line x1="459.11" y1="315.2" x2="459.11" y2="298.08" stroke="#77ac30" stroke-width="1.25" />
<line x1="460.25" y1="315.2" x2="460.25" y2="304.18" stroke="#77ac30" stroke-width="1.25" />
<line x1="461.39" y1="315.2" x2="461.39" y2="324.54" stroke="#77ac30" stroke-width="1.25" />
<line x1="462.53" y1="315.2" x2="462.53" y2="330.31" stroke="#77ac30" stroke-width="1.25" />
<line x1="463.66" y1="315.2" x2="463.66" y2="332" stroke="#77ac30" stroke-width="1.25" />
<line x1="464.8" y1="315.2" x2="464.8" y2="330.31" stroke="#77ac30" stroke-width="1.25" />
<line x1="465.94" y1="315.2" x2="465.94" y2="324.54" stroke="#77ac30" stroke-width="1.25" />
<line x1="467.08" y1="315.2" x2="467.08" y2="305.29" stroke="#77ac30" stroke-width="1.25" />
<line x1="468.21" y1="315.2" x2="468.21" y2="298.81" stroke="#77ac30" stroke-width="1.25" />
<line x1="469.35" y1="315.2" x2="469.35" y2="296.05" stroke="#77ac30" stroke-width="1.25" />
<line x1="470.49" y1="315.2" x2="470.49" y2="296.05" stroke="#77ac30" stroke-width="1.25" />
<line x1="471.63" y1="315.2" x2="471.63" y2="298.81" stroke="#77ac30" stroke-width="1.25" />
<line x1="472.77" y1="315.2" x2="472.77" y2="305.29" stroke="#77ac30" stroke-width="1.25" />
<line x1="473.9" y1="315.2" x2="473.9" y2="326.63" stroke="#77ac30" stroke-width="1.25" />
<line x1="475.04" y1="315.2" x2="475.04" y2="334.48" stroke="#77ac30" stroke-width="1.25" />
<line x1="476.18" y1="315.2" x2="476.18" y2="338.79" stroke="#77ac30" stroke-width="1.25" />
<line x1="477.32" y1="315.2" x2="477.32" y2="340.82" stroke="#77ac30" stroke-width="1.25" />
<line x1="478.45" y1="315.2" x2="478.45" y2="340.82" stroke="#77ac30" stroke-width="1.25" />
<line x1="479.59" y1="315.2" x2="479.59" y2="338.79" stroke="#77ac30" stroke-width="1.25" />
<line x1="480.73" y1="315.2" x2="480.73" y2="334.48" stroke="#77ac30" stroke-width="1.25" />
<line x1="481.87" y1="315.2" x2="481.87" y2="326.63" stroke="#77ac30" stroke-width="1.25" />
<line x1="483.01" y1="315.2" x2="483.01" y2="306.98" stroke="#77ac30" stroke-width="1.25" />
<line x1="484.14" y1="315.2" x2="484.14" y2="301.9" stroke="#77ac30" stroke-width="1.25" />
<line x1="485.28" y1="315.2" x2="485.28" y2="300.42" stroke="#77ac30" stroke-width="1.25" />
<line x1="486.42" y1="315.2" x2="486.42" y2="301.9" stroke="#77ac30" stroke-width="1.25" />
<line x1="487.56" y1="315.2" x2="487.56" y2="306.98" stroke="#77ac30" stroke-width="1.25" />
<line x1="488.69" y1="315.2" x2="488.69" y2="320.62" stroke="#77ac30" stroke-width="1.25" />
<line x1="489.83" y1="315.2" x2="489.83" y2="323.96" stroke="#77ac30" stroke-width="1.25" />
<line x1="490.97" y1="315.2" x2="490.97" y2="324.94" stroke="#77ac30" stroke-width="1.25" />
<line x1="492.11" y1="315.2" x2="492.11" y2="323.96" stroke="#77ac30" stroke-width="1.25" />
<line x1="493.24" y1="315.2" x2="493.24" y2="320.62" stroke="#77ac30" stroke-width="1.25" />
<line x1="494.38" y1="315.2" x2="494.38" y2="310.24" stroke="#77ac30" stroke-width="1.25" />
<line x1="495.52" y1="315.2" x2="495.52" y2="307.01" stroke="#77ac30" stroke-width="1.25" />
<line x1="496.66" y1="315.2" x2="496.66" y2="305.62" stroke="#77ac30" stroke-width="1.25" />
<line x1="497.8" y1="315.2" x2="497.8" y2="305.62" stroke="#77ac30" stroke-width="1.25" />
<line x1="498.93" y1="315.2" x2="498.93" y2="307.01" stroke="#77ac30" stroke-width="1.25" />
<line x1="500.07" y1="315.2" x2="500.07" y2="310.24" stroke="#77ac30" stroke-width="1.25" />
<line x1="501.21" y1="315.2" x2="501.21" y2="318.53" stroke="#77ac30" stroke-width="1.25" />
<line x1="502.35" y1="315.2" x2="502.35" y2="319.9" stroke="#77ac30" stroke-width="1.25" />
<line x1="503.48" y1="315.2" x2="503.48" y2="318.53" stroke="#77ac30" stroke-width="1.25" />
<line x1="504.62" y1="315.2" x2="504.62" y2="312.64" stroke="#77ac30" stroke-width="1.25" />
<line x1="505.76" y1="315.2" x2="505.76" y2="310.96" stroke="#77ac30" stroke-width="1.25" />
<line x1="506.9" y1="315.2" x2="506.9" y2="310.25" stroke="#77ac30" stroke-width="1.25" />
<line x1="508.04" y1="315.2" x2="508.04" y2="310.25" stroke="#77ac30" stroke-width="1.25" />
<line x1="509.17" y1="315.2" x2="509.17" y2="310.96" stroke="#77ac30" stroke-width="1.25" />
<line x1="510.31" y1="315.2" x2="510.31" y2="312.64" stroke="#77ac30" stroke-width="1.25" />
<line x1="511.45" y1="315.2" x2="511.45" y2="319.95" stroke="#77ac30" stroke-width="1.25" />
<line x1="512.59" y1="315.2" x2="512.59" y2="321.92" stroke="#77ac30" stroke-width="1.25" />
<line x1="513.72" y1="315.2" x2="513.72" y2="319.95" stroke="#77ac30" stroke-width="1.25" />
<line x1="514.86" y1="315.2" x2="514.86" y2="308.98" stroke="#77ac30" stroke-width="1.25" />
<line x1="516" y1="315.2" x2="516" y2="308.98" stroke="#77ac30" stroke-width="1.25" />
<line x1="404.5" y1="315.2" x2="516" y2="315.2" stroke="#3b3b1c" stroke-width="1.4" />
<circle cx="404.5" cy="249.68" r="1.3" fill="#11dd11"/>
<circle cx="405.64" cy="352.61" r="1.3" fill="#0a8a0a"/>
<circle cx="406.78" cy="373.33" r="1.3" fill="#0a8a0a"/>
<circle cx="407.91" cy="373.33" r="1.3" fill="#e3c800"/>
<circle cx="409.05" cy="352.61" r="1.3" fill="#0a8a0a"/>
<circle cx="410.19" cy="292.79" r="1.3" fill="#0a8a0a"/>
<circle cx="411.33" cy="278.93" r="1.3" fill="#0a8a0a"/>
<circle cx="412.46" cy="274.88" r="1.3" fill="#0a8a0a"/>
<circle cx="413.6" cy="278.93" r="1.3" fill="#0a8a0a"/>
<circle cx="414.74" cy="292.79" r="1.3" fill="#0a8a0a"/>
<circle cx="415.88" cy="333.91" r="1.3" fill="#0a8a0a"/>
<circle cx="417.02" cy="344.27" r="1.3" fill="#0a8a0a"/>
<circle cx="418.15" cy="344.27" r="1.3" fill="#0a8a0a"/>
<circle cx="419.29" cy="333.91" r="1.3" fill="#0a8a0a"/>
<circle cx="420.43" cy="304.77" r="1.3" fill="#0a8a0a"/>
<circle cx="421.57" cy="297.96" r="1.3" fill="#0a8a0a"/>
<circle cx="422.7" cy="295.06" r="1.3" fill="#e3c800"/>
<circle cx="423.84" cy="295.06" r="1.3" fill="#0a8a0a"/>
<circle cx="424.98" cy="297.96" r="1.3" fill="#0a8a0a"/>
<circle cx="426.12" cy="304.77" r="1.3" fill="#0a8a0a"/>
<circle cx="427.26" cy="326.41" r="1.3" fill="#11dd11"/>
<circle cx="428.39" cy="333.33" r="1.3" fill="#0a8a0a"/>
<circle cx="429.53" cy="335.36" r="1.3" fill="#e3c800"/>
<circle cx="430.67" cy="333.33" r="1.3" fill="#0a8a0a"/>
<circle cx="431.81" cy="326.41" r="1.3" fill="#11dd11"/>
<circle cx="432.94" cy="307.51" r="1.3" fill="#0a8a0a"/>
<circle cx="434.08" cy="302.49" r="1.3" fill="#0a8a0a"/>
<circle cx="435.22" cy="300.34" r="1.3" fill="#0a8a0a"/>
<circle cx="436.36" cy="300.34" r="1.3" fill="#0a8a0a"/>
<circle cx="437.49" cy="302.49" r="1.3" fill="#0a8a0a"/>
<circle cx="438.63" cy="307.51" r="1.3" fill="#0a8a0a"/>
<circle cx="439.77" cy="325.66" r="1.3" fill="#0a8a0a"/>
<circle cx="440.91" cy="332.12" r="1.3" fill="#e3c800"/>
<circle cx="442.05" cy="334.02" r="1.3" fill="#0a8a0a"/>
<circle cx="443.18" cy="332.12" r="1.3" fill="#0a8a0a"/>
<circle cx="444.32" cy="325.66" r="1.3" fill="#0a8a0a"/>
<circle cx="445.46" cy="305.46" r="1.3" fill="#11dd11"/>
<circle cx="446.6" cy="299.1" r="1.3" fill="#0a8a0a"/>
<circle cx="447.73" cy="296.38" r="1.3" fill="#0a8a0a"/>
<circle cx="448.87" cy="296.38" r="1.3" fill="#e3c800"/>
<circle cx="450.01" cy="299.1" r="1.3" fill="#0a8a0a"/>
<circle cx="451.15" cy="305.46" r="1.3" fill="#0a8a0a"/>
<circle cx="452.29" cy="327.67" r="1.3" fill="#0a8a0a"/>
<circle cx="453.42" cy="334.58" r="1.3" fill="#0a8a0a"/>
<circle cx="454.56" cy="334.58" r="1.3" fill="#11dd11"/>
<circle cx="455.7" cy="327.67" r="1.3" fill="#e3c800"/>
<circle cx="456.84" cy="304.18" r="1.3" fill="#0a8a0a"/>
<circle cx="457.97" cy="298.08" r="1.3" fill="#0a8a0a"/>
<circle cx="459.11" cy="298.08" r="1.3" fill="#e3c800"/>
<circle cx="460.25" cy="304.18" r="1.3" fill="#0a8a0a"/>
<circle cx="461.39" cy="324.54" r="1.3" fill="#0a8a0a"/>
<circle cx="462.53" cy="330.31" r="1.3" fill="#0a8a0a"/>
<circle cx="463.66" cy="332" r="1.3" fill="#0a8a0a"/>
<circle cx="464.8" cy="330.31" r="1.3" fill="#0a8a0a"/>
<circle cx="465.94" cy="324.54" r="1.3" fill="#0a8a0a"/>
<circle cx="467.08" cy="305.29" r="1.3" fill="#0a8a0a"/>
<circle cx="468.21" cy="298.81" r="1.3" fill="#0a8a0a"/>
<circle cx="469.35" cy="296.05" r="1.3" fill="#11dd11"/>
<circle cx="470.49" cy="296.05" r="1.3" fill="#0a8a0a"/>
<circle cx="471.63" cy="298.81" r="1.3" fill="#0a8a0a"/>
<circle cx="472.77" cy="305.29" r="1.3" fill="#0a8a0a"/>
<circle cx="473.9" cy="326.63" r="1.3" fill="#0a8a0a"/>
<circle cx="475.04" cy="334.48" r="1.3" fill="#0a8a0a"/>
<circle cx="476.18" cy="338.79" r="1.3" fill="#0a8a0a"/>
<circle cx="477.32" cy="340.82" r="1.3" fill="#e3c800"/>
<circle cx="478.45" cy="340.82" r="1.3" fill="#11dd11"/>
<circle cx="479.59" cy="338.79" r="1.3" fill="#e3c800"/>
<circle cx="480.73" cy="334.48" r="1.3" fill="#0a8a0a"/>
<circle cx="481.87" cy="326.63" r="1.3" fill="#11dd11"/>
<circle cx="483.01" cy="306.98" r="1.3" fill="#0a8a0a"/>
<circle cx="484.14" cy="301.9" r="1.3" fill="#0a8a0a"/>
<circle cx="485.28" cy="300.42" r="1.3" fill="#0a8a0a"/>
<circle cx="486.42" cy="301.9" r="1.3" fill="#0a8a0a"/>
<circle cx="487.56" cy="306.98" r="1.3" fill="#e3c800"/>
<circle cx="488.69" cy="320.62" r="1.3" fill="#0a8a0a"/>
<circle cx="489.83" cy="323.96" r="1.3" fill="#0a8a0a"/>
<circle cx="490.97" cy="324.94" r="1.3" fill="#0a8a0a"/>
<circle cx="492.11" cy="323.96" r="1.3" fill="#e3c800"/>
<circle cx="493.24" cy="320.62" r="1.3" fill="#0a8a0a"/>
<circle cx="494.38" cy="310.24" r="1.3" fill="#11dd11"/>
<circle cx="495.52" cy="307.01" r="1.3" fill="#0a8a0a"/>
<circle cx="496.66" cy="305.62" r="1.3" fill="#11dd11"/>
<circle cx="497.8" cy="305.62" r="1.3" fill="#0a8a0a"/>
<circle cx="498.93" cy="307.01" r="1.3" fill="#e3c800"/>
<circle cx="500.07" cy="310.24" r="1.3" fill="#0a8a0a"/>
<circle cx="501.21" cy="318.53" r="1.3" fill="#0a8a0a"/>
<circle cx="502.35" cy="319.9" r="1.3" fill="#0a8a0a"/>
<circle cx="503.48" cy="318.53" r="1.3" fill="#0a8a0a"/>
<circle cx="504.62" cy="312.64" r="1.3" fill="#0a8a0a"/>
<circle cx="505.76" cy="310.96" r="1.3" fill="#0a8a0a"/>
<circle cx="506.9" cy="310.25" r="1.3" fill="#0a8a0a"/>
<circle cx="508.04" cy="310.25" r="1.3" fill="#11dd11"/>
<circle cx="509.17" cy="310.96" r="1.3" fill="#e3c800"/>
<circle cx="510.31" cy="312.64" r="1.3" fill="#0a8a0a"/>
<circle cx="511.45" cy="319.95" r="1.3" fill="#11dd11"/>
<circle cx="512.59" cy="321.92" r="1.3" fill="#0a8a0a"/>
<circle cx="513.72" cy="319.95" r="1.3" fill="#0a8a0a"/>
<circle cx="514.86" cy="308.98" r="1.3" fill="#e3c800"/>
<circle cx="516" cy="308.98" r="1.3" fill="#0a8a0a"/>
<line x1="426.12" y1="382.2" x2="426.12" y2="380.2" stroke="#444" stroke-width="1" />
<line x1="426.12" y1="248.3" x2="426.12" y2="250.3" stroke="#444" stroke-width="1" />
<line x1="448.87" y1="382.2" x2="448.87" y2="380.2" stroke="#444" stroke-width="1" />
<line x1="448.87" y1="248.3" x2="448.87" y2="250.3" stroke="#444" stroke-width="1" />
<line x1="471.63" y1="382.2" x2="471.63" y2="380.2" stroke="#444" stroke-width="1" />
<line x1="471.63" y1="248.3" x2="471.63" y2="250.3" stroke="#444" stroke-width="1" />
<line x1="494.38" y1="382.2" x2="494.38" y2="380.2" stroke="#444" stroke-width="1" />
<line x1="494.38" y1="248.3" x2="494.38" y2="250.3" stroke="#444" stroke-width="1" />
<line x1="404.5" y1="382.4" x2="406.5" y2="382.4" stroke="#444" stroke-width="1" />
<line x1="514" y1="382.4" x2="516" y2="382.4" stroke="#444" stroke-width="1" />
<text x="401.8" y="387" font-family='"Liberation Sans", sans-serif' font-size="12.9" text-anchor="end" fill="#262626" >-2</text>
<line x1="404.5" y1="348.8" x2="406.5" y2="348.8" stroke="#444" stroke-width="1" />
<line x1="514" y1="348.8" x2="516" y2="348.8" stroke="#444" stroke-width="1" />
<text x="401.8" y="353.4" font-family='"Liberation Sans", sans-serif' font-size="12.9" text-anchor="end" fill="#262626" >-1</text>
<line x1="404.5" y1="315.2" x2="406.5" y2="315.2" stroke="#444" stroke-width="1" />
<line x1="514" y1="315.2" x2="516" y2="315.2" stroke="#444" stroke-width="1" />
<text x="401.8" y="319.8" font-family='"Liberation Sans", sans-serif' font-size="12.9" text-anchor="end" fill="#262626" >0</text>
<line x1="404.5" y1="281.6" x2="406.5" y2="281.6" stroke="#444" stroke-width="1" />
<line x1="514" y1="281.6" x2="516" y2="281.6" stroke="#444" stroke-width="1" />
<text x="401.8" y="286.2" font-family='"Liberation Sans", sans-serif' font-size="12.9" text-anchor="end" fill="#262626" >1</text>
<line x1="404.5" y1="248" x2="406.5" y2="248" stroke="#444" stroke-width="1" />
<line x1="514" y1="248" x2="516" y2="248" stroke="#444" stroke-width="1" />
<text x="401.8" y="252.6" font-family='"Liberation Sans", sans-serif' font-size="12.9" text-anchor="end" fill="#262626" >2</text>
<text x="426.12" y="397.6" font-family='"Liberation Sans", sans-serif' font-size="12.8" text-anchor="middle" fill="#262626" >20</text>
<text x="448.87" y="397.6" font-family='"Liberation Sans", sans-serif' font-size="12.8" text-anchor="middle" fill="#262626" >40</text>
<text x="471.63" y="397.6" font-family='"Liberation Sans", sans-serif' font-size="12.8" text-anchor="middle" fill="#262626" >60</text>
<text x="494.38" y="397.6" font-family='"Liberation Sans", sans-serif' font-size="12.8" text-anchor="middle" fill="#262626" >80</text>
<text x="461.2" y="411" font-family='"Liberation Serif", serif' font-size="13.3" text-anchor="middle" fill="#262626" >Time</text>
<text transform="translate(372.6,315) rotate(-90)" font-family='"Liberation Serif", serif' font-size="13.7" text-anchor="middle" fill="#404040">Error</text>
<text x="405.4" y="245.6" font-family='"Liberation Sans", sans-serif' font-size="12.9" text-anchor="start" fill="#262626" >&#215;</text>
<text x="414.8" y="244" font-family='"Liberation Sans", sans-serif' font-size="12.9" text-anchor="start" fill="#262626" >10</text>
<text x="427.6" y="239" font-family='"Liberation Sans", sans-serif' font-size="10" text-anchor="start" fill="#262626" >-5</text>
<rect x="516.2" y="224.3" width="162.3" height="190.9" fill="#fff" stroke="#444" stroke-width="1.2"/>
<rect x="541.6" y="237.2" width="2.4" height="2.4" fill="#0000ff"/>
<path d="M537.8,261.58h10M542.8,256.58v10" stroke="#148214" stroke-width="1.5"/>
<rect x="541.6" y="283.56" width="2.4" height="2.4" fill="#00c800"/>
<path d="M537.8,307.94h10M542.8,302.94v10" stroke="#00c800" stroke-width="1.5"/>
<rect x="541.7" y="330.02" width="2.2" height="2.2" fill="#ff0000"/>
<path d="M537.8,354.3h10M542.8,349.3v10" stroke="#77ac30" stroke-width="1.5"/>
<line x1="520.6" y1="377.48" x2="566.2" y2="377.48" stroke="#ff9900" stroke-width="3" />
<line x1="520.6" y1="401.26" x2="566.2" y2="401.26" stroke="#000" stroke-width="1" />
<text x="569.4" y="243.8" font-family='"Liberation Sans", sans-serif' font-size="13.05" text-anchor="start" fill="#262626" >Training Targets</text>
<text x="569.4" y="266.98" font-family='"Liberation Sans", sans-serif' font-size="13.05" text-anchor="start" fill="#262626" >Training Outputs</text>
<text x="569.4" y="290.16" font-family='"Liberation Sans", sans-serif' font-size="13.05" text-anchor="start" fill="#262626" >Validation Targets</text>
<text x="569.4" y="313.34" font-family='"Liberation Sans", sans-serif' font-size="13.05" text-anchor="start" fill="#262626" >Validation Outputs</text>
<text x="569.4" y="336.52" font-family='"Liberation Sans", sans-serif' font-size="13.05" text-anchor="start" fill="#262626" >Test Targets</text>
<text x="569.4" y="359.7" font-family='"Liberation Sans", sans-serif' font-size="13.05" text-anchor="start" fill="#262626" >Test Outputs</text>
<text x="569.4" y="382.88" font-family='"Liberation Sans", sans-serif' font-size="13.05" text-anchor="start" fill="#262626" >Errors</text>
<text x="569.4" y="406.06" font-family='"Liberation Sans", sans-serif' font-size="13.05" text-anchor="start" fill="#262626" >Response</text>
<rect x="401.6" y="415.6" width="276.9" height="21.1" fill="#fff" stroke="#444" stroke-width="1.2"/>
<rect x="489.2" y="425" width="3.5" height="2" fill="#008000"/>
<text x="517.4" y="430.1" font-family='"Liberation Sans", sans-serif' font-size="12.2" text-anchor="start" fill="#262626" >Targets - Outputs</text>
<text x="90.6" y="460.8" font-family='"Liberation Serif", serif' font-size="15" font-weight="bold" text-anchor="start" fill="#000" >a)</text>
<text x="118.3" y="460.8" font-family='"Liberation Serif", serif' font-size="15" font-weight="bold" text-anchor="start" fill="#000" >Regression of S-2 C-3</text>
<text x="442.3" y="460.8" font-family='"Liberation Serif", serif' font-size="15" font-weight="bold" text-anchor="start" fill="#000" >b)</text>
<text x="469.6" y="460.8" font-family='"Liberation Serif", serif' font-size="15" font-weight="bold" text-anchor="start" fill="#000" >Fitness graph of S-2 C-3</text>
</svg></body></html>
